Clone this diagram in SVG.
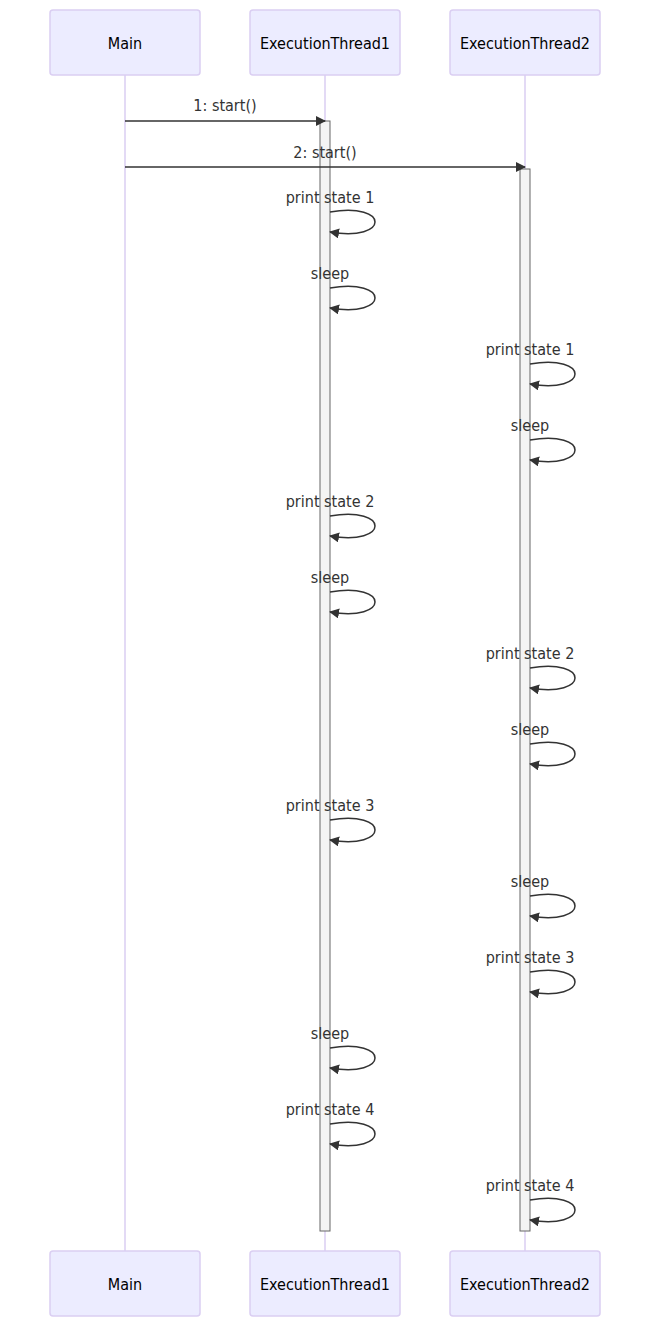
<svg xmlns="http://www.w3.org/2000/svg" width="655" height="1327" viewBox="0 0 655 1327">
<style>
.actor{fill:#ECECFF;stroke:#DACEF2;stroke-width:1.5}
.atext{font-family:"DejaVu Sans Condensed","DejaVu Sans",sans-serif;font-stretch:condensed;font-size:16px;fill:#000;text-anchor:middle;dominant-baseline:central}
.life{stroke:#DACEF2;stroke-width:1.5}
.act{fill:#F4F4F4;stroke:#666;stroke-width:1}
.msg{stroke:#333;stroke-width:1.5;fill:none}
.mtext{font-family:"DejaVu Sans Condensed","DejaVu Sans",sans-serif;font-stretch:condensed;font-size:16px;fill:#333;text-anchor:middle;dominant-baseline:central}
</style>
<defs>
<marker id="arrow" markerUnits="userSpaceOnUse" markerWidth="12" markerHeight="12" refX="9" refY="5" orient="auto">
<path d="M0,0 L10,5 L0,10 z" fill="#333"/>
</marker>
</defs>
<g id="lifelines">
<line class="life" x1="125" y1="75" x2="125" y2="1251"/>
<line class="life" x1="325" y1="75" x2="325" y2="1251"/>
<line class="life" x1="525" y1="75" x2="525" y2="1251"/>
</g>
<g id="Main">
<rect class="actor" x="50" y="10" width="150" height="65" rx="3"/>
<text class="atext" x="125" y="43">Main</text>
</g>
<g id="ExecutionThread1">
<rect class="actor" x="250" y="10" width="150" height="65" rx="3"/>
<text class="atext" x="325" y="43">ExecutionThread1</text>
</g>
<g id="ExecutionThread2">
<rect class="actor" x="450" y="10" width="150" height="65" rx="3"/>
<text class="atext" x="525" y="43">ExecutionThread2</text>
</g>
<g id="Main-bottom">
<rect class="actor" x="50" y="1251" width="150" height="65" rx="3"/>
<text class="atext" x="125" y="1284">Main</text>
</g>
<g id="ExecutionThread1-bottom">
<rect class="actor" x="250" y="1251" width="150" height="65" rx="3"/>
<text class="atext" x="325" y="1284">ExecutionThread1</text>
</g>
<g id="ExecutionThread2-bottom">
<rect class="actor" x="450" y="1251" width="150" height="65" rx="3"/>
<text class="atext" x="525" y="1284">ExecutionThread2</text>
</g>
<g id="activations">
<rect class="act" x="320" y="121" width="10" height="1110"/>
<rect class="act" x="520" y="169" width="10" height="1062"/>
</g>
<g id="connectors">
<line class="msg" x1="125" y1="121" x2="325" y2="121" marker-end="url(#arrow)"/>
<text class="mtext" x="225" y="105">1: start()</text>
<line class="msg" x1="125" y1="167" x2="525" y2="167" marker-end="url(#arrow)"/>
<text class="mtext" x="325" y="152">2: start()</text>

<text class="mtext" x="330" y="197">print state 1</text>
<path class="msg" d="M330,212 C390,202 390,242 330,232" marker-end="url(#arrow)"/>
<text class="mtext" x="330" y="273">sleep</text>
<path class="msg" d="M330,288 C390,278 390,318 330,308" marker-end="url(#arrow)"/>
<text class="mtext" x="530" y="349">print state 1</text>
<path class="msg" d="M530,364 C590,354 590,394 530,384" marker-end="url(#arrow)"/>
<text class="mtext" x="530" y="425">sleep</text>
<path class="msg" d="M530,440 C590,430 590,470 530,460" marker-end="url(#arrow)"/>
<text class="mtext" x="330" y="501">print state 2</text>
<path class="msg" d="M330,516 C390,506 390,546 330,536" marker-end="url(#arrow)"/>
<text class="mtext" x="330" y="577">sleep</text>
<path class="msg" d="M330,592 C390,582 390,622 330,612" marker-end="url(#arrow)"/>
<text class="mtext" x="530" y="653">print state 2</text>
<path class="msg" d="M530,668 C590,658 590,698 530,688" marker-end="url(#arrow)"/>
<text class="mtext" x="530" y="729">sleep</text>
<path class="msg" d="M530,744 C590,734 590,774 530,764" marker-end="url(#arrow)"/>
<text class="mtext" x="330" y="805">print state 3</text>
<path class="msg" d="M330,820 C390,810 390,850 330,840" marker-end="url(#arrow)"/>
<text class="mtext" x="530" y="881">sleep</text>
<path class="msg" d="M530,896 C590,886 590,926 530,916" marker-end="url(#arrow)"/>
<text class="mtext" x="530" y="957">print state 3</text>
<path class="msg" d="M530,972 C590,962 590,1002 530,992" marker-end="url(#arrow)"/>
<text class="mtext" x="330" y="1033">sleep</text>
<path class="msg" d="M330,1048 C390,1038 390,1078 330,1068" marker-end="url(#arrow)"/>
<text class="mtext" x="330" y="1109">print state 4</text>
<path class="msg" d="M330,1124 C390,1114 390,1154 330,1144" marker-end="url(#arrow)"/>
<text class="mtext" x="530" y="1185">print state 4</text>
<path class="msg" d="M530,1200 C590,1190 590,1230 530,1220" marker-end="url(#arrow)"/>
</g>
</svg>
